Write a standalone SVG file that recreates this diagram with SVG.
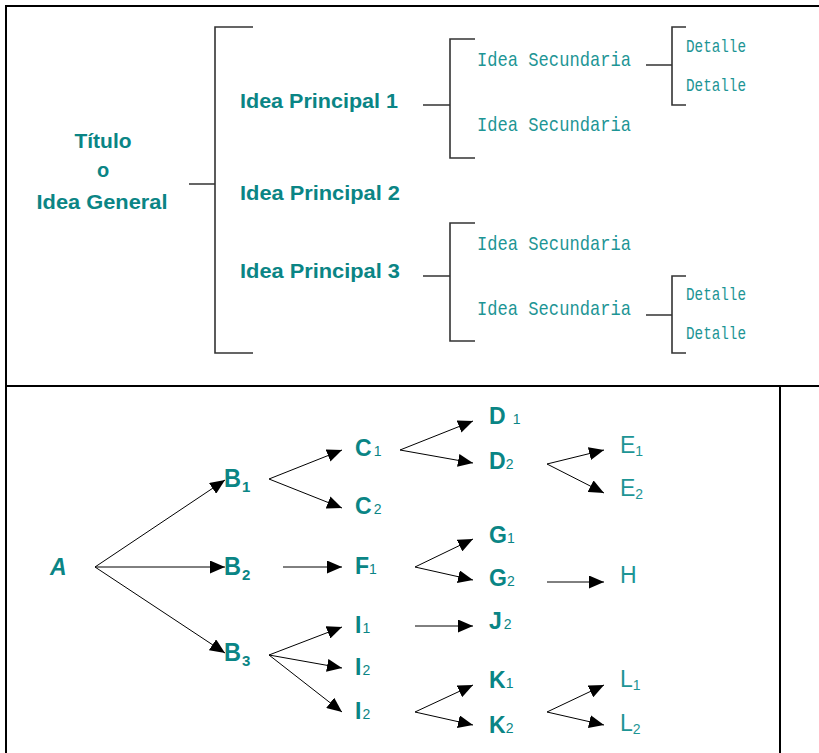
<svg xmlns="http://www.w3.org/2000/svg" width="819" height="753" viewBox="0 0 819 753">
<defs>
<style>
.frame{stroke:#000;stroke-width:2;fill:none}
.br{stroke:#333;stroke-width:1.6;fill:none}
.ar{stroke:#000;stroke-width:1;fill:none;marker-end:url(#ah)}
.t1{font-family:"Liberation Sans",Arial,sans-serif;font-weight:bold;fill:#0a8585}
.t2{font-family:"Liberation Mono","DejaVu Sans Mono",monospace;fill:#1d9595}
.bl{font-family:"Liberation Sans",Arial,sans-serif;font-weight:bold;fill:#0a8585;font-size:23px}
.th{font-family:"Liberation Sans",Arial,sans-serif;fill:#1d9595;font-size:23px}
.sub{font-size:14px;font-weight:normal}
.bb{font-size:26px}
.bs{font-size:15px}
</style>
<marker id="ah" markerUnits="userSpaceOnUse" markerWidth="15" markerHeight="13" refX="15" refY="6.5" orient="auto">
<path d="M0,0 L15,6.5 L0,13 z" fill="#000"/>
</marker>
</defs>
<rect width="819" height="753" fill="#fff"/>
<g id="frame">
<path class="frame" d="M6,753 V6 H819 M6,386 H819 M780,386 V753"/>
</g>
<g id="connectors">
<path class="br" d="M189,184 H215 M253,27 H215 V353 H253"/>
<path class="br" d="M423,105 H450 M475,39 H450 V158 H475"/>
<path class="br" d="M423,276 H450 M475,223 H450 V341 H475"/>
<path class="br" d="M646,65 H672 M686,27 H672 V105 H686"/>
<path class="br" d="M646,315 H672 M686,276 H672 V353 H686"/>
<line class="ar" x1="95" y1="567" x2="225" y2="480"/>
<line class="ar" x1="95" y1="567" x2="225" y2="567"/>
<line class="ar" x1="95" y1="567" x2="225" y2="653"/>
<line class="ar" x1="269" y1="479" x2="342" y2="450"/>
<line class="ar" x1="269" y1="479" x2="342" y2="508"/>
<line class="ar" x1="283" y1="567" x2="342" y2="567"/>
<line class="ar" x1="269" y1="655" x2="342" y2="627"/>
<line class="ar" x1="269" y1="655" x2="342" y2="668"/>
<line class="ar" x1="269" y1="655" x2="342" y2="712"/>
<line class="ar" x1="400" y1="450" x2="473" y2="421"/>
<line class="ar" x1="400" y1="450" x2="473" y2="463"/>
<line class="ar" x1="547" y1="464" x2="604" y2="450"/>
<line class="ar" x1="547" y1="464" x2="604" y2="493"/>
<line class="ar" x1="415" y1="567" x2="473" y2="539"/>
<line class="ar" x1="415" y1="567" x2="473" y2="580"/>
<line class="ar" x1="547" y1="582" x2="604" y2="582"/>
<line class="ar" x1="415" y1="626" x2="473" y2="626"/>
<line class="ar" x1="415" y1="712" x2="473" y2="685"/>
<line class="ar" x1="415" y1="712" x2="473" y2="725"/>
<line class="ar" x1="547" y1="712" x2="604" y2="685"/>
<line class="ar" x1="547" y1="712" x2="604" y2="725"/>
</g>
<g id="titulo" class="t1" font-size="20" text-anchor="middle">
<text x="103" y="148" textLength="57" lengthAdjust="spacingAndGlyphs">Título</text>
<text x="103" y="177">o</text>
<text x="102" y="209" textLength="131" lengthAdjust="spacingAndGlyphs">Idea General</text>
</g>
<g id="principal1"><text class="t1" font-size="20" x="240" y="108" textLength="158" lengthAdjust="spacingAndGlyphs">Idea Principal 1</text></g>
<g id="principal2"><text class="t1" font-size="20" x="240" y="200" textLength="160" lengthAdjust="spacingAndGlyphs">Idea Principal 2</text></g>
<g id="principal3"><text class="t1" font-size="20" x="240" y="278" textLength="160" lengthAdjust="spacingAndGlyphs">Idea Principal 3</text></g>
<g id="sec1"><text class="t2" font-size="21" x="477" y="66" textLength="154" lengthAdjust="spacingAndGlyphs">Idea Secundaria</text></g>
<g id="sec2"><text class="t2" font-size="21" x="477" y="131" textLength="154" lengthAdjust="spacingAndGlyphs">Idea Secundaria</text></g>
<g id="sec3"><text class="t2" font-size="21" x="477" y="250" textLength="154" lengthAdjust="spacingAndGlyphs">Idea Secundaria</text></g>
<g id="sec4"><text class="t2" font-size="21" x="477" y="315" textLength="154" lengthAdjust="spacingAndGlyphs">Idea Secundaria</text></g>
<g id="det1"><text class="t2" font-size="19" x="686" y="52" textLength="60" lengthAdjust="spacingAndGlyphs">Detalle</text></g>
<g id="det2"><text class="t2" font-size="19" x="686" y="91" textLength="60" lengthAdjust="spacingAndGlyphs">Detalle</text></g>
<g id="det3"><text class="t2" font-size="19" x="686" y="300" textLength="60" lengthAdjust="spacingAndGlyphs">Detalle</text></g>
<g id="det4"><text class="t2" font-size="19" x="686" y="339" textLength="60" lengthAdjust="spacingAndGlyphs">Detalle</text></g>
<g id="nA"><text class="bl" x="50" y="575" font-style="italic">A</text></g>
<g id="nB1"><text class="bl bb" x="224" y="487" textLength="17" lengthAdjust="spacingAndGlyphs">B</text><text class="bl bs" x="242" y="492">1</text></g>
<g id="nB2"><text class="bl bb" x="224" y="575" textLength="17" lengthAdjust="spacingAndGlyphs">B</text><text class="bl bs" x="242" y="580">2</text></g>
<g id="nB3"><text class="bl bb" x="224" y="661" textLength="17" lengthAdjust="spacingAndGlyphs">B</text><text class="bl bs" x="242" y="666">3</text></g>
<g id="nC1"><text class="bl" x="355" y="456">C<tspan class="sub" dx="2">1</tspan></text></g>
<g id="nC2"><text class="bl" x="355" y="514">C<tspan class="sub" dx="2">2</tspan></text></g>
<g id="nF1"><text class="bl" x="355" y="574">F<tspan class="sub">1</tspan></text></g>
<g id="nI1"><text class="bl" x="355" y="633">I<tspan class="sub" dx="1">1</tspan></text></g>
<g id="nI2a"><text class="bl" x="355" y="675">I<tspan class="sub" dx="1">2</tspan></text></g>
<g id="nI2b"><text class="bl" x="355" y="719">I<tspan class="sub" dx="1">2</tspan></text></g>
<g id="nD1"><text class="bl" x="489" y="424">D<tspan class="sub" dx="7">1</tspan></text></g>
<g id="nD2"><text class="bl" x="489" y="469">D<tspan class="sub">2</tspan></text></g>
<g id="nG1"><text class="bl" x="489" y="543">G<tspan class="sub">1</tspan></text></g>
<g id="nG2"><text class="bl" x="489" y="586">G<tspan class="sub">2</tspan></text></g>
<g id="nJ2"><text class="bl" x="489" y="629">J<tspan class="sub" dx="2">2</tspan></text></g>
<g id="nK1"><text class="bl" x="489" y="688">K<tspan class="sub">1</tspan></text></g>
<g id="nK2"><text class="bl" x="489" y="733">K<tspan class="sub">2</tspan></text></g>
<g id="nE1"><text class="th" x="620" y="453">E<tspan class="sub" dy="3">1</tspan></text></g>
<g id="nE2"><text class="th" x="620" y="496">E<tspan class="sub" dy="3">2</tspan></text></g>
<g id="nH"><text class="th" x="620" y="583">H</text></g>
<g id="nL1"><text class="th" x="620" y="687">L<tspan class="sub" dy="3">1</tspan></text></g>
<g id="nL2"><text class="th" x="620" y="731">L<tspan class="sub" dy="3">2</tspan></text></g>
</svg>
